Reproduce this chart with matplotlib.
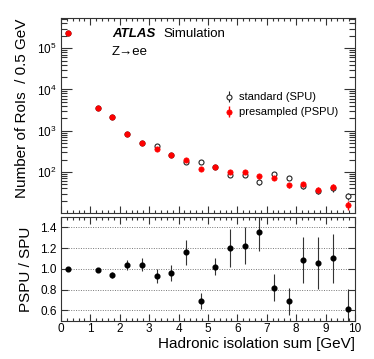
import matplotlib
matplotlib.use("Agg")
import matplotlib.pyplot as plt
from matplotlib.ticker import MultipleLocator, LogLocator, NullFormatter, FixedLocator, NullLocator

plt.rcParams['font.family'] = ['Liberation Sans', 'DejaVu Sans']

# bin centres [GeV]
x_centers = [0.25, 1.25, 1.75, 2.25, 2.75, 3.25, 3.75, 4.25, 4.75, 5.25,
             5.75, 6.25, 6.75, 7.25, 7.75, 8.25, 8.75, 9.25, 9.75]
# standard pile-up (SPU)
spu_counts = [2.3e5, 3600, 2200, 830, 500, 417, 256, 173, 177, 130,
              86, 84, 57, 91, 71, 45, 35, 40, 26]
spu_err = [480, 60, 47, 29, 22, 20, 16, 13, 13, 11,
           9.3, 9.2, 7.5, 9.5, 8.4, 6.7, 5.9, 6.3, 5.1]
# presampled pile-up (PSPU)
pspu_counts = [2.3e5, 3610, 2140, 826, 500, 371, 256, 200, 120, 131,
               103, 103, 78, 73.5, 48, 50.6, 37.6, 43.7, 16.2]
pspu_err = [480, 60, 46, 29, 22, 19, 16, 14, 11, 11,
            10, 10, 8.8, 8.6, 6.9, 7.1, 6.1, 6.6, 4.0]
# ratio PSPU / SPU
ratio = [1.00, 0.99, 0.94, 1.04, 1.04, 0.93, 0.96, 1.16, 0.69, 1.02,
         1.20, 1.225, 1.36, 0.82, 0.687, 1.087, 1.06, 1.10, 0.61]
ratio_err = [0.005, 0.02, 0.025, 0.05, 0.06, 0.07, 0.08, 0.12, 0.08, 0.08,
             0.18, 0.18, 0.19, 0.13, 0.13, 0.22, 0.25, 0.24, 0.20]
top_ticks = [1e2, 1e3, 1e4, 1e5]
ratio_ticks = [0.6, 0.8, 1.0, 1.2, 1.4]

fig = plt.figure(figsize=(3.74, 3.59), dpi=100)
ax1 = fig.add_axes([0.163, 0.4058, 0.786, 0.5432])
ax2 = fig.add_axes([0.163, 0.1067, 0.786, 0.2888])

for ax in (ax1, ax2):
    for s in ax.spines.values():
        s.set_linewidth(0.8)
        s.set_color('#333333')

# top panel
ax1.errorbar(x_centers, spu_counts, yerr=spu_err, fmt='o', ms=3.6,
             mfc='white', mec='#222222', mew=0.8, ecolor='#222222',
             elinewidth=0.8, capsize=0, label='standard (SPU)', zorder=3)
ax1.errorbar(x_centers, pspu_counts, yerr=pspu_err, fmt='o', ms=3.8,
             mfc='red', mec='red', mew=0.5, ecolor='red',
             elinewidth=1.0, capsize=0, label='presampled (PSPU)', zorder=4)
ax1.set_yscale('log')
ax1.set_xlim(0, 10)
ax1.set_ylim(10, 5.3e5)
ax1.xaxis.set_major_locator(MultipleLocator(1))
ax1.xaxis.set_minor_locator(MultipleLocator(0.2))
ax1.yaxis.set_major_locator(FixedLocator(top_ticks))
ax1.yaxis.set_minor_locator(LogLocator(base=10, subs=range(2, 10), numticks=20))
ax1.yaxis.set_minor_formatter(NullFormatter())
ax1.set_xticklabels([])
ax1.tick_params(which='both', direction='in', top=True, right=True,
                labelsize=8.5, width=0.8, color='#333333')
ax1.tick_params(axis='y', which='major', length=8, pad=3)
ax1.tick_params(axis='y', which='minor', length=4)
ax1.tick_params(axis='x', which='major', length=5)
ax1.tick_params(axis='x', which='minor', length=2.5)
ax1.set_ylabel('Number of RoIs  / 0.5 GeV', fontsize=11, loc='top', labelpad=6)

ax1.text(0.173, 0.918, 'ATLAS', transform=ax1.transAxes, fontsize=9.5,
         fontweight='bold', fontstyle='italic', va='center', ha='left')
ax1.text(0.35, 0.918, 'Simulation', transform=ax1.transAxes, fontsize=9.5,
         va='center', ha='left')
ax1.text(0.173, 0.827, 'Z\u2192ee', transform=ax1.transAxes, fontsize=9.5,
         va='center', ha='left')

ax1.legend(loc='upper left', bbox_to_anchor=(0.525, 0.66), frameon=False,
           fontsize=8, handlelength=1.0, handletextpad=0.4,
           labelspacing=0.45, borderpad=0.2)

# ratio panel
for yv in ratio_ticks:
    ax2.axhline(yv, color='#777777', lw=0.7, ls=(0, (1, 1.5)), zorder=1)
ax2.errorbar(x_centers, ratio, yerr=ratio_err, fmt='o', ms=3.4,
             mfc='black', mec='black', ecolor='#333333', elinewidth=0.8,
             capsize=0, zorder=3)
ax2.set_xlim(0, 10)
ax2.set_ylim(0.5, 1.5)
ax2.xaxis.set_major_locator(MultipleLocator(1))
ax2.xaxis.set_minor_locator(MultipleLocator(0.2))
ax2.yaxis.set_major_locator(FixedLocator(ratio_ticks))
ax2.yaxis.set_minor_locator(NullLocator())
ax2.tick_params(which='both', direction='in', top=True, right=True,
                labelsize=8.5, width=0.8, color='#333333')
ax2.tick_params(axis='x', which='major', length=5, pad=2)
ax2.tick_params(axis='x', which='minor', length=2.5)
ax2.tick_params(axis='y', which='major', length=5, pad=3)
ax2.yaxis.set_major_formatter(matplotlib.ticker.FormatStrFormatter('%.1f'))
ax2.set_ylabel('PSPU / SPU', fontsize=11, labelpad=5)
ax2.set_xlabel('Hadronic isolation sum [GeV]', fontsize=11, loc='right', labelpad=1)

fig.savefig('out.png', dpi=100)
